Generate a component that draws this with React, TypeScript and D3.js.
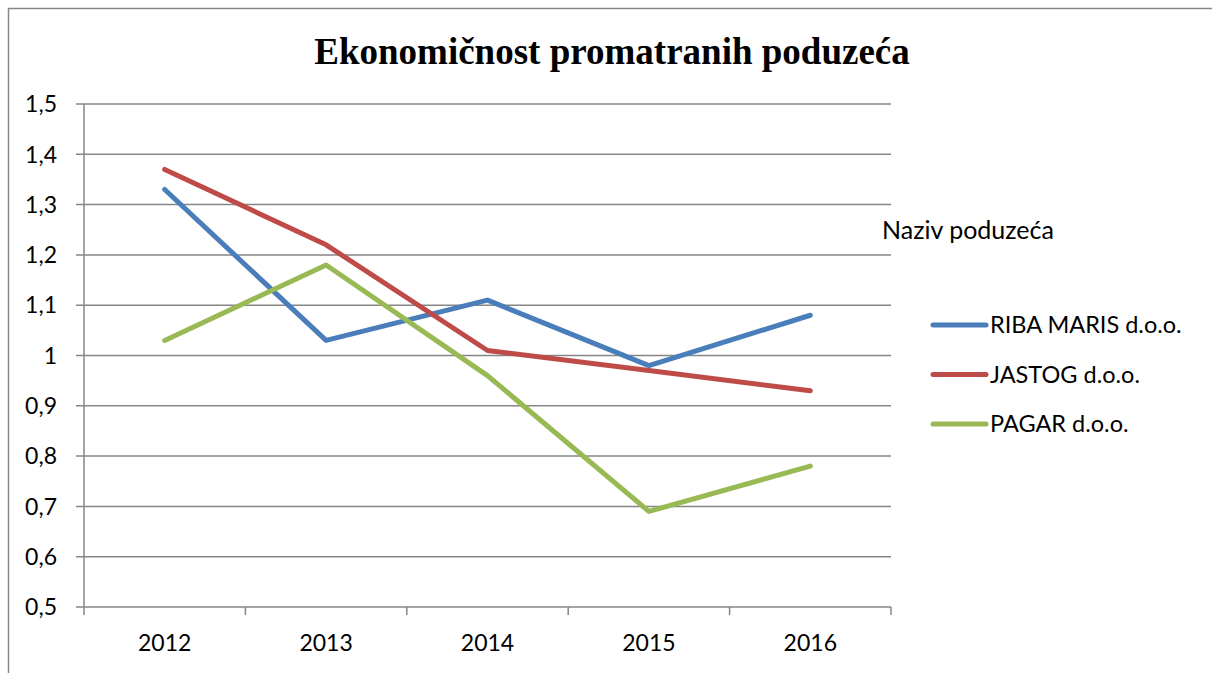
import React from "react";
import * as d3 from "d3";

const categories = ["2012", "2013", "2014", "2015", "2016"];
const seriesNames = ["RIBA MARIS d.o.o.", "JASTOG d.o.o.", "PAGAR d.o.o."];
const ribaMaris = [1.33, 1.03, 1.11, 0.98, 1.08];
const jastog = [1.37, 1.22, 1.01, 0.97, 0.93];
const pagar = [1.03, 1.18, 0.96, 0.69, 0.78];
const colors = ["#4a7ebb", "#be4b48", "#98b954"];
const yTicks = [0.5, 0.6, 0.7, 0.8, 0.9, 1.0, 1.1, 1.2, 1.3, 1.4, 1.5];
const title = "Ekonomičnost promatranih poduzeća";
const legendTitle = "Naziv poduzeća";

const W = 1212;
const H = 673;
const left = 84;
const right = 891;
const top = 104;
const bottom = 607;
const labelFont = "Lato, 'Open Sans', sans-serif";

export default function App() {
  const x = d3.scaleBand().domain(categories).range([left, right]).padding(0);
  const y = d3.scaleLinear().domain([0.5, 1.5]).range([bottom, top]);
  const data = [ribaMaris, jastog, pagar];
  const line = d3
    .line<number>()
    .x((_, i) => (x(categories[i]) as number) + x.bandwidth() / 2)
    .y((d) => y(d));
  const fmt = (v: number) => (Math.abs(v - 1) < 1e-9 ? "1" : v.toFixed(1).replace(".", ","));
  const boundaries = categories.map((c) => x(c) as number).concat([right]);

  return (
    <svg
      width={W}
      height={H}
      style={{ position: "absolute", left: 0, top: 0, background: "#fff" }}
    >
      <rect x={8.5} y={8.5} width={W + 20} height={H + 20} fill="#fff" stroke="#868686" strokeWidth={1.5} />
      <text
        x={612}
        y={64}
        textAnchor="middle"
        fontFamily="'Liberation Serif', 'Times New Roman', serif"
        fontWeight="bold"
        fontSize={37}
        fill="#000"
      >
        {title}
      </text>
      {yTicks.map((t) => (
        <g key={t}>
          <line x1={76} x2={right} y1={y(t)} y2={y(t)} stroke="#868686" strokeWidth={1.5} />
          <text
            x={57}
            y={y(t)}
            dy="0.36em"
            textAnchor="end"
            fontFamily={labelFont}
            fontSize={23}
            fill="#000"
          >
            {fmt(t)}
          </text>
        </g>
      ))}
      <line x1={left} x2={left} y1={top} y2={bottom} stroke="#868686" strokeWidth={1.5} />
      {boundaries.map((b, i) => (
        <line key={i} x1={b} x2={b} y1={bottom} y2={bottom + 8} stroke="#868686" strokeWidth={1.5} />
      ))}
      {categories.map((c) => (
        <text
          key={c}
          x={(x(c) as number) + x.bandwidth() / 2}
          y={651}
          textAnchor="middle"
          fontFamily={labelFont}
          fontSize={23}
          fill="#000"
        >
          {c}
        </text>
      ))}
      {data.map((d, i) => (
        <path
          key={i}
          d={line(d) as string}
          fill="none"
          stroke={colors[i]}
          strokeWidth={5}
          strokeLinecap="round"
          strokeLinejoin="round"
        />
      ))}
      <text x={882} y={239} fontFamily={labelFont} fontSize={25} fill="#000">
        {legendTitle}
      </text>
      {seriesNames.map((n, i) => (
        <g key={n}>
          <line
            x1={933}
            x2={986}
            y1={325 + i * 49.5}
            y2={325 + i * 49.5}
            stroke={colors[i]}
            strokeWidth={5}
            strokeLinecap="round"
          />
          <text x={990} y={325 + i * 49.5} dy="0.36em" fontFamily={labelFont} fontSize={23.5} fill="#000">
            {n}
          </text>
        </g>
      ))}
    </svg>
  );
}
